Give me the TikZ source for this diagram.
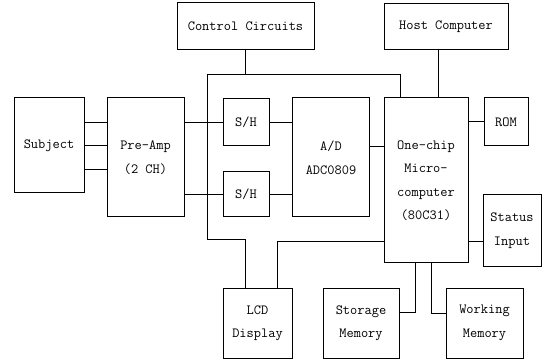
\documentclass[tikz,border=0pt]{standalone}
\usepackage{fontspec}
\usepackage{tikz}
\usetikzlibrary{positioning,calc}

\begin{document}
\begin{tikzpicture}[
  x=1pt, y=-1pt,
  blk/.style={draw, line width=1pt, align=center, inner sep=0pt,
              font=\ttfamily\fontsize{14}{23.5}\selectfont},
  wire/.style={line width=1pt}
]
\useasboundingbox (0,0) rectangle (542,361);

\node[blk, minimum width=137, minimum height=47] (ctrl) at (245.5,26.5) {Control Circuits};
\node[blk, minimum width=124, minimum height=46] (host) at (446,27)   {Host Computer};
\node[blk, minimum width=70,  minimum height=95] (subj) at (49,145.5)  {Subject};
\node[blk, minimum width=77,  minimum height=119] (pre) at (145.5,157.5) {Pre-Amp\\(2 CH)};
\node[blk, minimum width=46,  minimum height=47] (sh1)  at (246,122.5) {S/H};
\node[blk, minimum width=46,  minimum height=45] (sh2)  at (246,194.5) {S/H};
\node[blk, minimum width=77,  minimum height=119] (ad)  at (331,157.5) {A/D\\ADC0809};
\node[blk, minimum width=84,  minimum height=165] (mcu) at (426,180.5) {One-chip\\Micro-\\computer\\(80C31)};
\node[blk, minimum width=44,  minimum height=48] (rom)  at (506,122)   {ROM};
\node[blk, minimum width=58,  minimum height=71] (stat) at (512,230.5) {Status\\Input};
\node[blk, minimum width=69,  minimum height=70] (lcd)  at (257.5,323) {LCD\\Display};
\node[blk, minimum width=76,  minimum height=70] (stor) at (361,323)   {Storage\\Memory};
\node[blk, minimum width=77,  minimum height=70] (work) at (484.5,323) {Working\\Memory};

% bus round the sampling stage
\coordinate (busA) at (207,240);
\coordinate (busB) at (400,75);

\draw[wire] (subj.east |- sh1) -- (pre.west |- sh1);
\draw[wire] (subj.east) -- (pre.west |- subj.east);
\draw[wire] ([yshift=-24pt]subj.east) -- ([yshift=-24pt]subj.east -| pre.west);
\draw[wire] (pre.east |- sh1) -- (sh1.west);
\draw[wire] (pre.east |- sh2) -- (sh2.west);
\draw[wire] (sh1.east) -- (sh1.east -| ad.west);
\draw[wire] (sh2.east) -- (sh2.east -| ad.west);
\draw[wire] ([yshift=11pt]ad.east) -- ([yshift=11pt]ad.east -| mcu.west);
\draw[wire] (rom.west) -- (rom.west -| mcu.east);
\draw[wire] ([yshift=-11pt]stat.west) -- ([yshift=-11pt]stat.west -| mcu.east);
\draw[wire] ([xshift=-8pt]host.south) -- ([xshift=-8pt]host.south |- mcu.north);
\draw[wire] ([xshift=-12.5pt]lcd.north) |- (busA) |- (busB) -- (busB |- mcu.north);
\draw[wire] (ctrl.south) -- (ctrl.south |- busB);
\draw[wire] ([xshift=19.5pt]lcd.north) |- ([yshift=-61.5pt]mcu.west);
\draw[wire] ([xshift=-11pt]mcu.south) |- ([yshift=11pt]stor.east);
\draw[wire] ([xshift=5pt]mcu.south) |- ([yshift=10pt]work.west);
\end{tikzpicture}
\end{document}
